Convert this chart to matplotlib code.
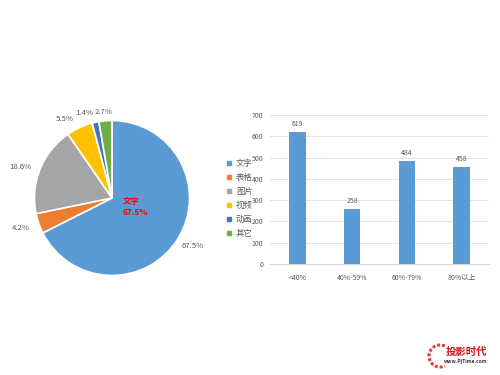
import matplotlib
matplotlib.use("Agg")
import matplotlib.pyplot as plt
from matplotlib.lines import Line2D
from matplotlib.patches import Arc

plt.rcParams['font.family'] = ['Noto Sans CJK SC', 'DejaVu Sans']

pie_labels = ['文字', '表格', '图片', '视频', '动画', '其它']
pie_values = [67.5, 4.2, 18.6, 5.5, 1.4, 2.7]
pie_colors = ['#5B9BD5', '#ED7D31', '#A5A5A5', '#FFC000', '#4472C4', '#70AD47']

bar_cats = ['<40%', '40%-59%', '60%-79%', '80%以上']
bar_vals = [619, 258, 484, 458]
bar_color = '#5B9BD5'

txt = '#595959'
fig = plt.figure(figsize=(5, 3.75), dpi=100)

# Pie
cx, cy, r_px = 112, 198, 77.5
w = 2.2 * r_px / 500
h = 2.2 * r_px / 375
axp = fig.add_axes([(cx - 1.1 * r_px) / 500, (375 - cy - 1.1 * r_px) / 375, w, h])
wedges, texts = axp.pie(
    pie_values, colors=pie_colors, startangle=90, counterclock=False,
    wedgeprops=dict(edgecolor='white', linewidth=1.2))
axp.set_xlim(-1.1, 1.1)
axp.set_ylim(-1.1, 1.1)
axp.set_aspect('equal')

# value labels (positions in pixel of the reference layout)
label_px = [(193, 246), (21, 228), (20, 167), (65, 119), (84, 113), (104, 112)]
for v, (px, py) in zip(pie_values, label_px):
    axp.text((px - cx) / r_px, (cy - py) / r_px, f'{v}%', color=txt,
             fontsize=5.6, ha='center', va='center')

axp.text((123 - cx) / r_px, (cy - 207) / r_px, f'{pie_labels[0]}\n{pie_values[0]}%',
         color='#FF0000', fontsize=6.0, fontweight='bold', ha='left',
         va='center', linespacing=1.15)

# Legend
handles = [Line2D([], [], marker='s', linestyle='none', markersize=3,
                  color=c) for c in pie_colors]
fig.legend(handles, pie_labels, loc='upper left', bbox_to_anchor=(0.447, 0.585),
           frameon=False, fontsize=6, labelcolor=txt, handlelength=0.6,
           handletextpad=0.5, labelspacing=0.6, borderaxespad=0)

# Bar chart
axb = fig.add_axes([270 / 500, (375 - 264) / 375, (489 - 270) / 500, (264 - 115) / 375])
x = range(len(bar_cats))
bars = axb.bar(x, bar_vals, width=0.3, color=bar_color)
axb.set_xlim(-0.5, len(bar_cats) - 0.5)
axb.set_ylim(0, 700)
axb.set_yticks(range(0, 701, 100))
axb.set_xticks(list(x))
axb.set_xticklabels(bar_cats)
axb.yaxis.grid(True, color='#E0E0E0', linewidth=0.6)
axb.set_axisbelow(True)
for s in ['top', 'right', 'left']:
    axb.spines[s].set_visible(False)
axb.spines['bottom'].set_color('#D0D0D0')
axb.spines['bottom'].set_linewidth(0.6)
axb.tick_params(axis='y', length=0, labelsize=5, colors=txt, pad=5)
axb.tick_params(axis='x', length=0, labelsize=5, colors=txt, pad=7)
for b, v in zip(bars, bar_vals):
    axb.text(b.get_x() + b.get_width() / 2, v + 18, str(v), ha='center',
             va='bottom', fontsize=5, color=txt)

# Watermark
fig.text(466 / 500, 1 - 352 / 375, '投影时代', color='#D0161B', fontsize=7.5,
         fontweight='bold', ha='center', va='center')
fig.text(466 / 500, 1 - 362 / 375, 'www.PjTime.com', color='#333333', fontsize=3.5,
         fontweight='bold', ha='center', va='center')
logo = Arc((440 / 500, 1 - 356 / 375), 22 / 500, 22 / 375, theta1=70, theta2=290,
           transform=fig.transFigure, color='#E04040', linewidth=2.2, linestyle=(0, (1, 0.6)))
fig.add_artist(logo)

fig.savefig('out.png', dpi=100)
